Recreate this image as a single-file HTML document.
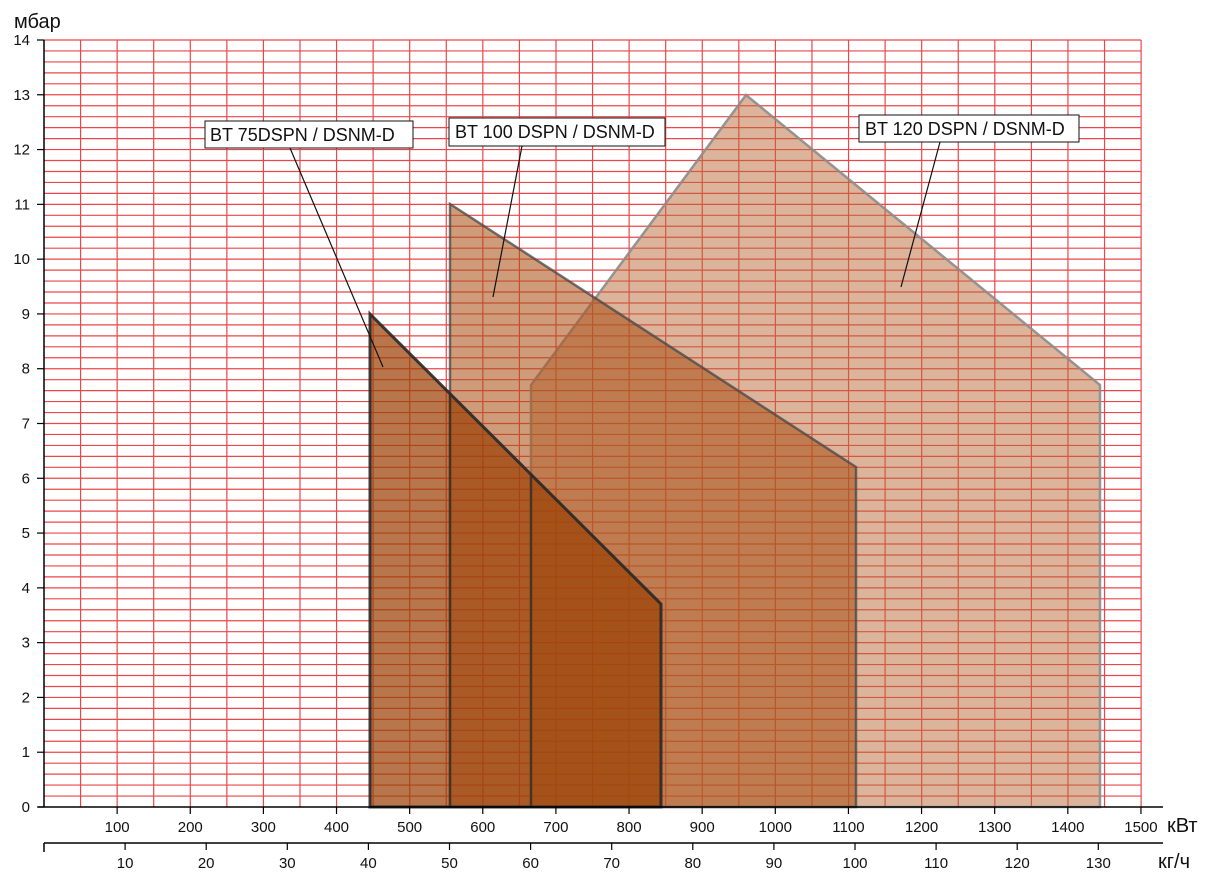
<!DOCTYPE html>
<html><head><meta charset="utf-8"><style>body{margin:0;background:#fff}svg{display:block}text{font-family:"Liberation Sans",sans-serif}</style></head><body>
<svg width="1232" height="878" viewBox="0 0 1232 878" xmlns="http://www.w3.org/2000/svg">
<g id="grid" stroke="#e8262a" stroke-width="1.2" opacity="0.85"></g>
<polygon points="531,807 531,385 746,95 1100,385 1100,807" fill="rgba(185,105,55,0.5)" stroke="rgba(140,140,140,0.9)" stroke-width="2.5"/>
<polygon points="450,807 450,204 856,467 856,807" fill="rgba(170,85,25,0.58)" stroke="rgba(70,70,70,0.75)" stroke-width="2.5"/>
<polygon points="370,807 370,314 661,604 661,807" fill="rgba(155,65,5,0.72)" stroke="rgba(40,40,40,0.9)" stroke-width="3"/>
<g stroke="rgba(40,40,40,0.7)" stroke-width="2.5"><line x1="450" y1="395" x2="450" y2="807"/><line x1="531" y1="475" x2="531" y2="807"/></g>
<g stroke="#000" stroke-width="1.5">
<line x1="44" y1="40" x2="44" y2="807"/>
<line x1="38" y1="807" x2="1163" y2="807"/>
<line x1="44" y1="843" x2="1163" y2="843"/>
<line x1="44" y1="843" x2="44" y2="852"/>
</g>
<g id="ticks" stroke="#000" stroke-width="1.2"></g>
<g id="labels" font-size="15" fill="#111"></g>
<text x="14" y="28" font-size="20" fill="#111">мбар</text>
<text x="1167" y="832" font-size="20" fill="#111">кВт</text>
<text x="1158" y="868" font-size="20" fill="#111">кг/ч</text>
<g stroke="#111" stroke-width="1.2">
<line x1="290" y1="148" x2="383" y2="367"/>
<line x1="522" y1="146" x2="493" y2="297"/>
<line x1="940" y1="142" x2="901" y2="287"/>
</g>
<g font-size="18" fill="#111">
<rect x="205" y="121" width="208" height="27" fill="#fff" stroke="#111"/>
<text x="210" y="141">BT 75DSPN / DSNM-D</text>
<rect x="449" y="118" width="216" height="28" fill="#fff" stroke="#111"/>
<text x="455" y="138">BT 100 DSPN / DSNM-D</text>
<rect x="859" y="115" width="220" height="27" fill="#fff" stroke="#111"/>
<text x="865" y="135">BT 120 DSPN / DSNM-D</text>
</g>
<script>
var ns="http://www.w3.org/2000/svg";
function el(p,t,a,txt){var e=document.createElementNS(ns,t);for(var k in a)e.setAttribute(k,a[k]);if(txt!==undefined)e.textContent=txt;document.getElementById(p).appendChild(e);}
for(var i=1;i<=70;i++){var y=807-i*767/70;el('grid','line',{x1:44,x2:1141,y1:y,y2:y});}
for(var j=1;j<=30;j++){var x=44+j*36.57;el('grid','line',{x1:x,x2:x,y1:40,y2:807});}
for(var v=0;v<=14;v++){var y=807-v*767/14;el('ticks','line',{x1:37,x2:44,y1:y,y2:y});el('labels','text',{x:30,y:y+5,'text-anchor':'end'},v);}
for(var k=1;k<=15;k++){var x=44+k*73.13;el('ticks','line',{x1:x,x2:x,y1:807,y2:814});el('labels','text',{x:x,y:832,'text-anchor':'middle'},k*100);}
for(var m=1;m<=13;m++){var x=44+m*81.1;el('ticks','line',{x1:x,x2:x,y1:843,y2:850});el('labels','text',{x:x,y:868,'text-anchor':'middle'},m*10);}
</script>
</svg>
</body></html>
